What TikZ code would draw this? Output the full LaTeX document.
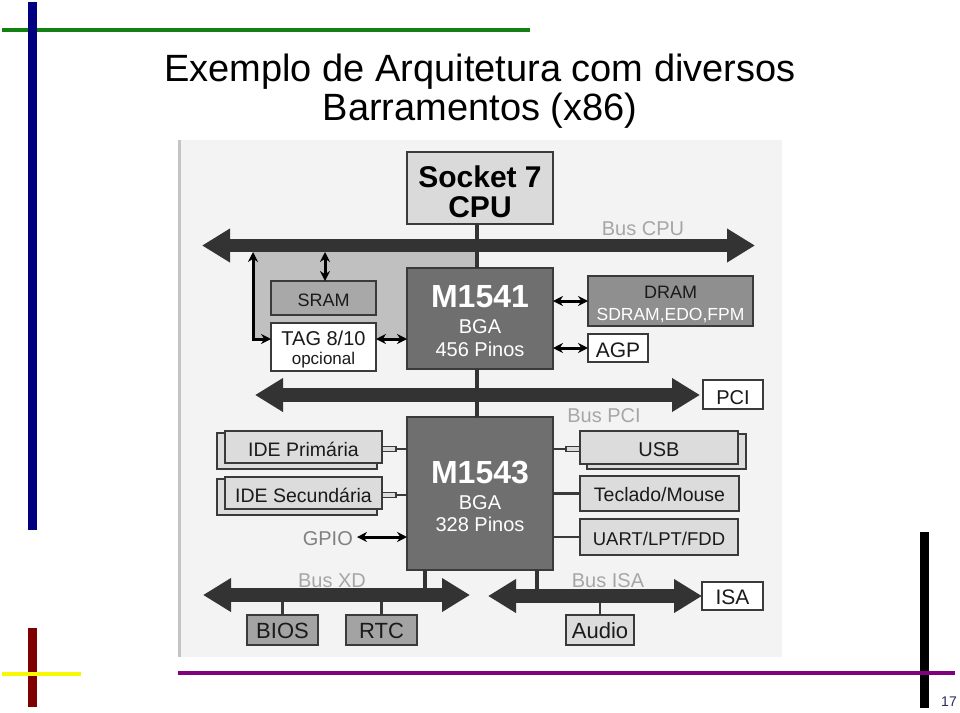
\documentclass[tikz,border=0pt]{standalone}
\usepackage{fontspec}
\setmainfont{Liberation Sans}
\usetikzlibrary{arrows.meta}
\definecolor{busc}{HTML}{333333}
\definecolor{boxline}{HTML}{3A3A3A}
\definecolor{panel}{HTML}{F3F3F3}
\definecolor{paneledge}{HTML}{C4C4C4}
\definecolor{midgray}{HTML}{C0C0C0}
\definecolor{cpufill}{HTML}{DADADA}
\definecolor{chipfill}{HTML}{6F6F6F}
\definecolor{sramfill}{HTML}{A8A8A8}
\definecolor{dramfill}{HTML}{8F8F8F}
\definecolor{lightbox}{HTML}{DCDCDC}
\definecolor{biosfill}{HTML}{A3A3A3}
\definecolor{labelgray}{HTML}{A6A6A6}
\definecolor{txtdark}{HTML}{1A1A1A}
\definecolor{pagenum}{HTML}{2A2A5A}
\definecolor{decoblue}{HTML}{000080}
\definecolor{decogreen}{HTML}{138013}
\definecolor{decored}{HTML}{800000}
\definecolor{decoyellow}{HTML}{F8F800}
\definecolor{decopurple}{HTML}{800080}
\newcommand\mkbox[6]{\node[box,#6,minimum width={#4-#2},minimum height={#5-#3}] (#1) at ({(#2+#4)/2},{(#3+#5)/2}) {};}
\newcommand\fs[1]{\fontsize{#1}{#1}\selectfont}
\begin{document}
\begin{tikzpicture}[x=1pt,y=-1pt,
 box/.style={draw=boxline,line width=1.4pt,inner sep=0pt,outer sep=0pt},
 txt/.style={inner sep=0pt,anchor=base,text=txtdark},
 busarrow/.style={draw=busc,line width=13.5pt,>={Triangle[length=28pt,width=32pt]},<->},
 sarr/.style={draw=black,line width=3pt,>={Stealth[length=10pt,width=10pt]},<->},
 vline/.style={draw=busc,line width=4pt},
 pline/.style={draw=boxline,line width=2.6pt},
 conn/.style={draw=boxline,fill=lightbox,line width=1.4pt,inner sep=0pt,outer sep=0pt,minimum width=14pt,minimum height=5pt},
 buslbl/.style={txt,text=labelgray,font=\fs{20}},
]
\useasboundingbox (0,0) rectangle (960,712);
% slide decorations
\fill[decogreen] (2,28) rectangle (530,32);
\fill[decoblue] (28,2) rectangle (37,530);
\fill[decored] (28,628) rectangle (37,707);
\fill[decoyellow] (2,672) rectangle (81,676);
\fill[black] (920,532) rectangle (929,708);
\fill[decopurple] (178,671) rectangle (955,675);
% title
\node[txt,text=black,font=\fs{38}] (title1) at (480,81) {Exemplo de Arquitetura com diversos};
\node[txt,text=black,font=\fs{38}] (title2) at (480,120) {Barramentos (x86)};
\node[txt,text=pagenum,font=\fs{14}] (pg) at (949,706) {17};
% panel
\fill[panel] (180,140) rectangle (782,657);
\fill[paneledge] (178,140) rectangle (181,657);
\fill[midgray] (253,252) rectangle (477,339);
% boxes
\mkbox{cpu}{407}{152}{553}{224}{fill=cpufill}
\mkbox{m1541}{407}{268}{553}{369}{fill=chipfill}
\mkbox{m1543}{407}{417}{553}{570}{fill=chipfill}
\mkbox{sram}{271}{281}{376}{315}{fill=sramfill}
\mkbox{tag}{271}{323}{376}{371}{fill=white}
\mkbox{dram}{588}{276}{753}{326}{fill=dramfill}
\mkbox{agp}{588}{334}{648}{362}{fill=white}
\mkbox{pcibox}{703}{380}{763}{409}{fill=white}
\mkbox{idepb}{217}{433}{377}{469}{fill=lightbox}
\mkbox{idep}{225}{431}{382}{463}{fill=lightbox}
\mkbox{idesb}{217}{479}{377}{515}{fill=lightbox}
\mkbox{ides}{225}{477}{382}{509}{fill=lightbox}
\mkbox{usbb}{587}{434}{746}{469}{fill=lightbox}
\mkbox{usb}{580}{431}{738}{464}{fill=lightbox}
\mkbox{kbd}{580}{476}{739}{511}{fill=lightbox}
\mkbox{uart}{580}{519}{738}{555}{fill=lightbox}
\mkbox{isabox}{702}{582}{763}{610}{fill=white}
\mkbox{bios}{247}{615}{318}{645}{fill=biosfill}
\mkbox{rtc}{346}{615}{417}{645}{fill=biosfill}
\mkbox{audio}{566}{615}{634}{645}{fill=lightbox}
% bus coordinates
\coordinate (cpuL) at (202,245.5);
\coordinate (cpuR) at (755,245.5);
\coordinate (cpuLow) at (253,252);
\coordinate (pciL) at (255,395);
\coordinate (pciR) at (700,395);
\coordinate (xdL) at (203,595);
\coordinate (xdR) at (470,595);
\coordinate (isaL) at (488,596);
\coordinate (isaR) at (702,596);
\coordinate (xdtap) at (425,595);
\coordinate (isatap) at (537,596);
\coordinate (tagarr) at (253,339);
% vertical chip connections
\draw[vline] ([xshift=-3pt]cpu.south) -- ([xshift=-3pt]m1541.north);
\draw[vline] ([xshift=-3pt]m1541.south) -- ([xshift=-3pt]m1543.north);
\draw[vline] (xdtap |- m1543.south) -- (xdtap);
\draw[vline] (isatap |- m1543.south) -- (isatap);
\draw[pline] (bios.north) -- (bios.north |- xdL);
\draw[pline] (rtc.north) -- (rtc.north |- xdL);
\draw[pline] (audio.north) -- (audio.north |- isaL);
% buses
\draw[busarrow] (cpuL) -- (cpuR);
\draw[busarrow] (pciL) -- (pciR);
\draw[busarrow] (xdL) -- (xdR);
\draw[busarrow] (isaL) -- (isaR);
% peripheral links
\node[conn] (cidep) at (389,449) {};
\node[conn] (cides) at (389,495) {};
\node[conn] (cusb) at (573,449) {};
\draw[pline] (cidep.east) -- (cidep.east -| m1543.west);
\draw[pline] (cides.east) -- (cides.east -| m1543.west);
\draw[pline] (cusb.west) -- (cusb.west -| m1543.east);
\draw[pline] (kbd.west) -- (kbd.west -| m1543.east);
\draw[pline] (uart.west) -- (uart.west -| m1543.east);
% black double arrows
\draw[sarr] ([xshift=1.5pt]sram.north) -- ([xshift=1.5pt]sram.north |- cpuLow);
\draw[sarr] (cpuLow) -- (tagarr) -- (tagarr -| tag.west);
\draw[sarr] (tagarr -| tag.east) -- (tagarr -| m1541.west);
\draw[sarr] (m1541.east |- dram.west) -- (dram.west);
\draw[sarr] (m1541.east |- agp.west) -- (agp.west);
% texts
\node[txt,text=black,font=\bfseries\fs{30}] (tsock) at (480,187) {Socket 7};
\node[txt,text=black,font=\bfseries\fs{30}] (tcpu) at (480,217) {CPU};
\node[txt,text=white,font=\bfseries\fs{32}] (t41a) at (480,307) {M1541};
\node[txt,text=white,font=\fs{20}] (t41b) at (480,333) {BGA};
\node[txt,text=white,font=\fs{20}] (t41c) at (480,356) {456 Pinos};
\node[txt,text=white,font=\bfseries\fs{32}] (t43a) at (480,483) {M1543};
\node[txt,text=white,font=\fs{20}] (t43b) at (480,509) {BGA};
\node[txt,text=white,font=\fs{20}] (t43c) at (480,531) {328 Pinos};
\node[txt,font=\fs{18}] (tsram) at (323.5,306) {SRAM};
\node[txt,font=\fs{20}] (ttag) at (323.5,345) {TAG 8/10};
\node[txt,font=\fs{17}] (topc) at (323.5,364) {opcional};
\node[txt,font=\fs{18}] (tdram) at (670.5,298) {DRAM};
\node[txt,text=white,font=\fs{17.5}] (tsdram) at (670.5,320) {SDRAM,EDO,FPM};
\node[txt,font=\fs{21}] (tagp) at (618,357) {AGP};
\node[txt,font=\fs{20}] (tpci) at (733,404) {PCI};
\node[buslbl] (lcpu) at (643,235) {Bus CPU};
\node[buslbl] (lpci) at (604,422) {Bus PCI};
\node[buslbl] (lxd) at (332,587) {Bus XD};
\node[buslbl] (lisa) at (608,587) {Bus ISA};
\node[txt,font=\fs{19.5}] (tidep) at (303.5,456) {IDE Primária};
\node[txt,font=\fs{19.5}] (tides) at (303.5,502) {IDE Secundária};
\node[txt,anchor=base east,text=gray,font=\fs{20}] (gpio) at (353,545) {GPIO};
\node[txt,font=\fs{20}] (tusb) at (659,456) {USB};
\node[txt,font=\fs{19.5}] (tkbd) at (659.5,501) {Teclado/Mouse};
\node[txt,font=\fs{18.5}] (tuart) at (659,545) {UART/LPT/FDD};
\node[txt,font=\fs{21}] (tisa) at (732.5,604) {ISA};
\node[txt,font=\fs{22}] (tbios) at (282.5,638) {BIOS};
\node[txt,font=\fs{22}] (trtc) at (381.5,638) {RTC};
\node[txt,font=\fs{22}] (taudio) at (600,638) {Audio};
\coordinate (gpioarr) at (357,537);
\draw[sarr] (gpioarr) -- (gpioarr -| m1543.west);
\end{tikzpicture}
\end{document}
